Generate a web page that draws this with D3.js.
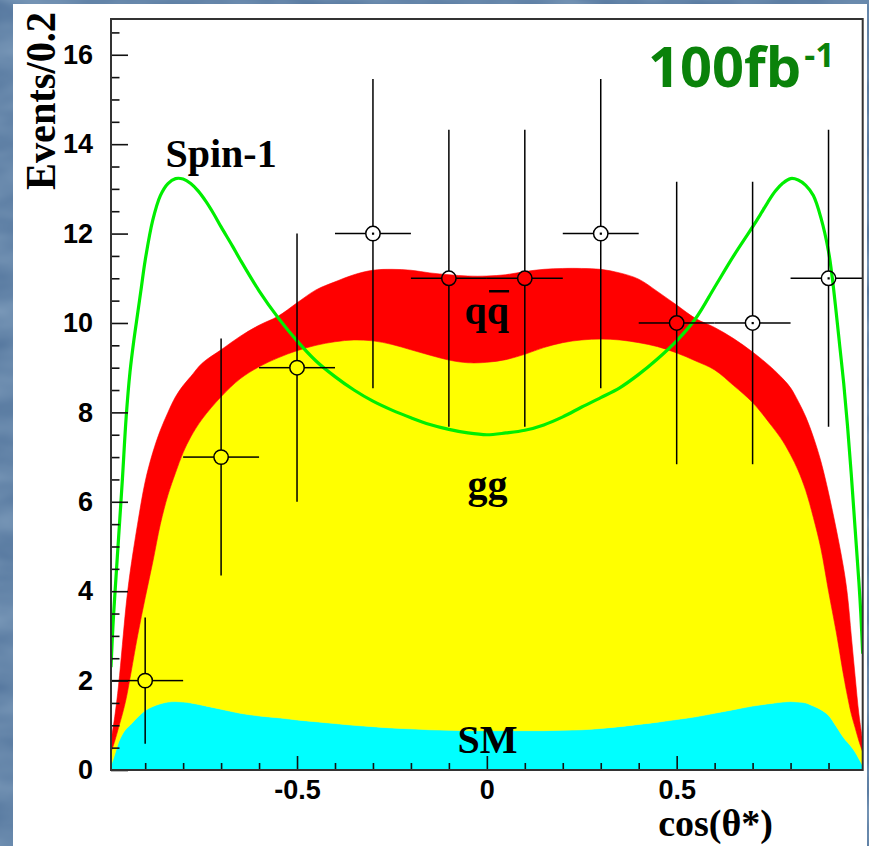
<!DOCTYPE html>
<html><head><meta charset="utf-8">
<script src="https://cdn.jsdelivr.net/npm/d3@7"></script>
<style>html,body{margin:0;padding:0;background:#56789f;overflow:hidden}</style>
</head><body>
<svg id="c" width="869" height="846"></svg>
<script>
// ---- data ----
const binX = [-0.99,-0.98,-0.97,-0.96,-0.95,-0.94,-0.92,-0.90,-0.88,-0.86,-0.84,-0.82,-0.80,-0.78,-0.75,-0.70,-0.65,-0.60,-0.55,-0.50,-0.45,-0.40,-0.35,-0.30,-0.25,-0.20,-0.15,-0.10,-0.05,0,
  0.05,0.10,0.15,0.20,0.25,0.30,0.35,0.40,0.45,0.50,0.55,0.60,0.65,0.70,0.75,0.78,0.80,0.82,0.84,0.86,0.88,0.90,0.92,0.94,0.95,0.96,0.97,0.98,0.99];
const smValues = [0.1,0.35,0.62,0.8,0.92,1.0,1.18,1.33,1.42,1.48,1.52,1.53,1.52,1.5,1.45,1.36,1.27,1.21,1.17,1.12,1.08,1.04,1.0,0.97,0.94,0.92,0.9,0.89,0.88,0.88,
  0.88,0.88,0.88,0.89,0.9,0.93,0.97,1.02,1.07,1.13,1.19,1.27,1.35,1.43,1.49,1.52,1.53,1.52,1.5,1.43,1.35,1.22,0.98,0.72,0.62,0.52,0.4,0.25,0.1];
const ggValues = [0.3,0.3,0.33,0.45,0.68,1.05,1.82,2.52,3.23,4.02,4.63,5.12,5.58,5.95,6.4,6.99,7.48,7.81,8.05,8.26,8.42,8.54,8.62,8.63,8.58,8.48,8.38,8.28,8.23,8.24,
  8.3,8.42,8.57,8.67,8.72,8.71,8.65,8.54,8.4,8.2,7.96,7.68,7.25,6.79,6.21,5.83,5.52,5.18,4.75,4.22,3.6,2.78,2.12,1.38,1.03,0.73,0.55,0.4,0.3];
const qqValues = [0.25,0.55,0.95,1.55,2.1,2.35,2.5,2.6,2.45,2.1,1.85,1.7,1.5,1.35,1.25,1.05,0.95,0.93,0.93,1.07,1.24,1.34,1.46,1.58,1.68,1.78,1.84,1.91,1.94,1.93,
  1.9,1.85,1.75,1.66,1.6,1.56,1.5,1.42,1.23,1.07,0.95,0.95,1.05,1.13,1.3,1.4,1.5,1.55,1.65,1.8,1.95,2.2,2.3,2.4,2.25,1.75,1.15,0.6,0.25];
const spinX = [-0.99,-0.985,-0.98,-0.97,-0.96,-0.95,-0.94,-0.93,-0.92,-0.91,-0.90,-0.88,-0.86,-0.84,-0.82,-0.80,-0.78,-0.76,-0.74,-0.72,-0.70,-0.67,-0.65,-0.60,-0.55,-0.50,-0.45,-0.40,-0.35,-0.30,-0.25,-0.20,-0.15,-0.10,-0.05,0,
  0.05,0.10,0.15,0.20,0.25,0.30,0.35,0.40,0.45,0.50,0.55,0.60,0.65,0.70,0.72,0.74,0.76,0.78,0.80,0.82,0.84,0.86,0.88,0.90,0.91,0.92,0.93,0.94,0.95,0.96,0.97,0.98,0.985,0.99];
const spinValues = [2.3,3.2,3.9,5.2,6.5,7.9,8.9,9.6,10.2,10.8,11.4,12.3,12.85,13.12,13.23,13.22,13.12,12.95,12.72,12.45,12.15,11.72,11.42,10.72,10.12,9.6,9.15,8.8,8.5,8.25,8.05,7.88,7.73,7.62,7.54,7.5,
  7.54,7.6,7.72,7.9,8.12,8.33,8.55,8.85,9.2,9.6,10.1,10.8,11.5,12.15,12.42,12.7,12.95,13.13,13.23,13.2,13.08,12.85,12.35,11.6,11.0,10.25,9.45,8.65,7.7,6.6,5.4,4.2,3.5,2.6];
const dataX = [-0.9,-0.7,-0.5,-0.3,-0.1,0.1,0.3,0.5,0.7,0.9];
const dataY = [2,7,9,12,11,11,12,10,10,11];
const dataYErr = [1.41,2.65,3.0,3.46,3.32,3.32,3.46,3.16,3.16,3.32];
const dataXErr = [0.1,0.1,0.1,0.1,0.1,0.1,0.1,0.1,0.1,0.1];
const xTickValues = [-0.5,0,0.5];
const xTickLabels = ["-0.5","0","0.5"];
const yTickValues = [0,2,4,6,8,10,12,14,16];
const yTickLabels = ["0","2","4","6","8","10","12","14","16"];
const xMinorValues = [-0.9,-0.8,-0.7,-0.6,-0.4,-0.3,-0.2,-0.1,0.1,0.2,0.3,0.4,0.6,0.7,0.8,0.9];
const yMinorValues = [0.5,1,1.5,2.5,3,3.5,4.5,5,5.5,6.5,7,7.5,8.5,9,9.5,10.5,11,11.5,12.5,13,13.5,14.5,15,15.5,16.5];

// ---- layout ----
const svg = d3.select("#c");
const W = 869, H = 846;
const L = 111, R = 862.7, T = 19, B = 770;
const x = d3.scaleLinear().domain([-0.99, 0.99]).range([L, R]);
const y = d3.scaleLinear().domain([0, 16.8]).range([B, T]);

// background
const defs = svg.append("defs");
const f = defs.append("filter").attr("id","tex").attr("x",0).attr("y",0).attr("width","100%").attr("height","100%");
f.append("feTurbulence").attr("type","fractalNoise").attr("baseFrequency","0.012 0.03").attr("numOctaves",3).attr("seed",7).attr("result","n");
f.append("feColorMatrix").attr("in","n").attr("type","matrix")
  .attr("values","0 0 0 0 0.30  0 0 0 0 0.44  0 0 0 0 0.60  0 0 0 0.9 -0.2");
svg.append("rect").attr("width",W).attr("height",H).attr("fill","#56789f");
svg.append("rect").attr("width",W).attr("height",H).attr("filter","url(#tex)");
svg.append("rect").attr("x",13).attr("y",4).attr("width",854).attr("height",H-4).attr("fill","#ffffff");

defs.append("clipPath").attr("id","plot").append("rect").attr("x",L).attr("y",T).attr("width",R-L).attr("height",B-T);
const g = svg.append("g").attr("clip-path","url(#plot)");

// data point centre dots (drawn under fills, visible only on white)
g.selectAll("rect.dot").data(dataX).join("rect").attr("class","dot")
  .attr("x",(d,i)=>x(d)-1).attr("y",(d,i)=>y(dataY[i])-1).attr("width",2.2).attr("height",2.2).attr("fill","#000");

// stacked histograms
const table = binX.map((bx,i)=>({x:bx, sm:smValues[i], gg:ggValues[i], qq:qqValues[i]}));
const stack = d3.stack().keys(["sm","gg","qq"])(table);
const colors = {sm:"#00ffff", gg:"#ffff00", qq:"#ff0000"};
const area = d3.area().x(d=>x(d.data.x)).y0(d=>y(d[0])).y1(d=>y(d[1])).curve(d3.curveCatmullRom.alpha(0.5));
g.selectAll("path.layer").data(stack).join("path").attr("class","layer")
  .attr("d",area).attr("fill",d=>colors[d.key]).attr("stroke",d=>colors[d.key]).attr("stroke-width",0.6);

// spin-1 curve
const line = d3.line().x(d=>x(d[0])).y(d=>y(d[1])).curve(d3.curveCatmullRom.alpha(0.5));
g.append("path").datum(spinX.map((sx,i)=>[sx,spinValues[i]]))
  .attr("d",line).attr("fill","none").attr("stroke","#00ee00").attr("stroke-width",3.2);

// data points with error bars
const r = 7.2;
const pts = g.selectAll("g.pt").data(dataX.map((d,i)=>({x:d,y:dataY[i],ey:dataYErr[i],ex:dataXErr[i]}))).join("g").attr("class","pt");
const st = s=>s.attr("stroke","#000").attr("stroke-width",1.5);
pts.append("line").call(st).attr("x1",d=>x(d.x)).attr("x2",d=>x(d.x)).attr("y1",d=>y(d.y+d.ey)).attr("y2",d=>y(d.y)-r);
pts.append("line").call(st).attr("x1",d=>x(d.x)).attr("x2",d=>x(d.x)).attr("y1",d=>y(d.y)+r).attr("y2",d=>y(d.y-d.ey));
pts.append("line").call(st).attr("y1",d=>y(d.y)).attr("y2",d=>y(d.y)).attr("x1",d=>x(d.x-d.ex)).attr("x2",d=>x(d.x)-r);
pts.append("line").call(st).attr("y1",d=>y(d.y)).attr("y2",d=>y(d.y)).attr("x1",d=>x(d.x)+r).attr("x2",d=>x(d.x+d.ex));
pts.append("circle").call(st).attr("cx",d=>x(d.x)).attr("cy",d=>y(d.y)).attr("r",r).attr("fill","none");

// axes (ticks inside)
const fmtX = d=>xTickLabels[xTickValues.indexOf(d)];
const fmtY = d=>yTickLabels[yTickValues.indexOf(d)];
const ax = svg.append("g").attr("transform",`translate(0,${B})`)
  .call(d3.axisBottom(x).tickValues(xTickValues).tickSize(-14).tickPadding(10).tickFormat(fmtX));
const axm = svg.append("g").attr("transform",`translate(0,${B})`)
  .call(d3.axisBottom(x).tickValues(xMinorValues).tickSize(-7).tickFormat(""));
const ay = svg.append("g").attr("transform",`translate(${L},0)`)
  .call(d3.axisLeft(y).tickValues(yTickValues).tickSize(-17).tickPadding(18).tickFormat(fmtY));
const aym = svg.append("g").attr("transform",`translate(${L},0)`)
  .call(d3.axisLeft(y).tickValues(yMinorValues).tickSize(-8.5).tickFormat(""));
[ax,axm,ay,aym].forEach(a=>{
  a.select(".domain").remove();
  a.selectAll("line").attr("stroke","#111").attr("stroke-width",1.6);
  a.selectAll("text").attr("fill","#000").attr("font-family","'Liberation Sans', Arial, sans-serif")
    .attr("font-weight","bold").attr("font-size",27);
});

// frame
svg.append("rect").attr("x",L).attr("y",T).attr("width",R-L).attr("height",B-T)
  .attr("fill","none").attr("stroke","#333").attr("stroke-width",2);

// texts
const serif = "'Liberation Serif','Times New Roman',serif";
const lab = (t,px,py,size,anchor)=>svg.append("text").text(t).attr("x",px).attr("y",py)
  .attr("font-family",serif).attr("font-weight","bold").attr("font-size",size)
  .attr("text-anchor",anchor||"middle").attr("fill","#000");
lab("Spin-1", x(-0.70), y(13.48), 40);
lab("gg", x(0.002), y(6.08), 40);
lab("SM", x(0.002), y(0.38), 40);
const qt = lab("qq", x(0.0), y(9.97), 40);
const bb = qt.node().getBBox();
svg.append("line").attr("x1",bb.x+bb.width*0.55).attr("x2",bb.x+bb.width).attr("y1",y(10.71)).attr("y2",y(10.71))
  .attr("stroke","#000").attr("stroke-width",2.5);
lab("cos(θ*)", 773, 836, 38, "end");
svg.append("text").text("Events/0.2")
  .attr("transform","translate(55,12) rotate(-90)")
  .attr("text-anchor","end").attr("font-family",serif).attr("font-weight","bold")
  .attr("font-size",42).attr("textLength",178).attr("lengthAdjust","spacingAndGlyphs").attr("fill","#000");
const lum = svg.append("text").attr("x",648).attr("y",87).attr("fill","#0a820a")
  .attr("font-family","'Open Sans','DejaVu Sans',sans-serif").attr("font-weight","bold");
lum.append("tspan").text("100fb").attr("font-size",56);
lum.append("tspan").text("-1").attr("font-size",34).attr("dy",-20).attr("dx",3);
</script>
</body></html>
